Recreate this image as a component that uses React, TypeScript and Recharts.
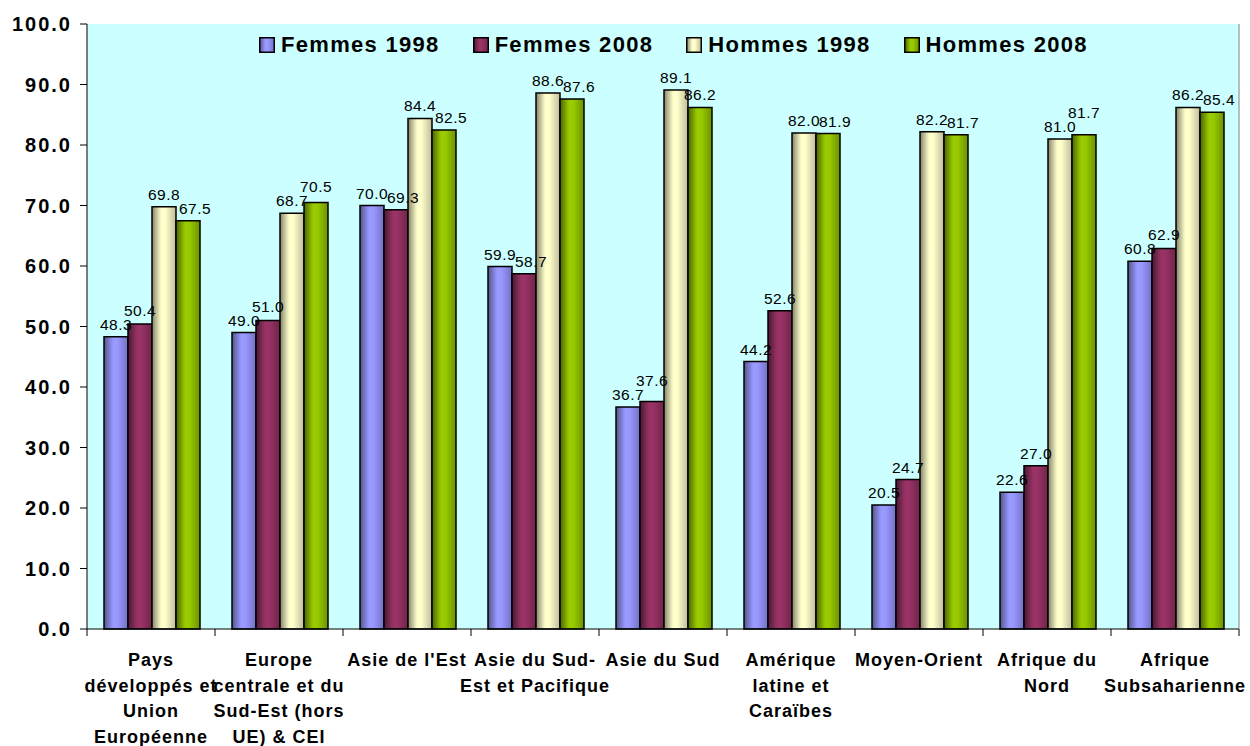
import React from "react";
import {
	BarChart,
	Bar,
	XAxis,
	YAxis,
	CartesianGrid,
	Legend,
	LabelList,
} from "recharts";

const categories = [
	"Pays\ndéveloppés et\nUnion\nEuropéenne",
	"Europe\ncentrale et du\nSud-Est (hors\nUE) & CEI",
	"Asie de l'Est",
	"Asie du Sud-\nEst et Pacifique",
	"Asie du Sud",
	"Amérique\nlatine et\nCaraïbes",
	"Moyen-Orient",
	"Afrique du\nNord",
	"Afrique\nSubsaharienne",
];

const femmes1998 = [48.3, 49.0, 70.0, 59.9, 36.7, 44.2, 20.5, 22.6, 60.8];
const femmes2008 = [50.4, 51.0, 69.3, 58.7, 37.6, 52.6, 24.7, 27.0, 62.9];
const hommes1998 = [69.8, 68.7, 84.4, 88.6, 89.1, 82.0, 82.2, 81.0, 86.2];
const hommes2008 = [67.5, 70.5, 82.5, 87.6, 86.2, 81.9, 81.7, 81.7, 85.4];

const yTicks = [0, 10, 20, 30, 40, 50, 60, 70, 80, 90, 100];

const seriesValues = [femmes1998, femmes2008, hommes1998, hommes2008];

const series = [
	{ key: "f1998", name: "Femmes 1998", grad: "gF98", stops: ["#55558f", "#9999ff", "#9999ff", "#7272c4"] },
	{ key: "f2008", name: "Femmes 2008", grad: "gF08", stops: ["#4a1932", "#993366", "#993366", "#6e2549"] },
	{ key: "h1998", name: "Hommes 1998", grad: "gH98", stops: ["#85856a", "#ffffcc", "#ffffcc", "#bdbd98"] },
	{ key: "h2008", name: "Hommes 2008", grad: "gH08", stops: ["#4a6300", "#99cc00", "#99cc00", "#6d9100"] },
];

const data = categories.map((name, i) => ({
	name,
	f1998: femmes1998[i],
	f2008: femmes2008[i],
	h1998: hommes1998[i],
	h2008: hommes2008[i],
}));

// value label above a bar; nudged when it would collide with its left neighbour's label
function makeLabel(si: number) {
	return (props: any) => {
		const { x, y, width, height, value, index } = props;
		const cur = Number(value);
		let dx = 0;
		let lift = 0;
		if (si > 0 && cur > 0) {
			const prev = seriesValues[si - 1][index];
			const d = ((cur - prev) * Number(height)) / cur;
			if (d >= 0 && d < 14) lift = 14 - d;
			else if (d < 0 && d > -14) dx = 7;
		}
		return (
			<text
				x={Number(x) + Number(width) / 2 + dx}
				y={Number(y) - 7 - lift}
				textAnchor="middle"
				fontSize={15.5}
				fill="#000"
				letterSpacing={0.5}
			>
				{cur.toFixed(1)}
			</text>
		);
	};
}

function CategoryTick(props: any) {
	const { x, y, payload, index } = props;
	const half = payload && payload.offset ? payload.offset : 64;
	const lines = String(payload.value).split("\n");
	const isLast = index === categories.length - 1;
	return (
		<g>
			<line x1={x - half} y1={y} x2={x - half} y2={y + 7} stroke="#000" />
			{isLast && <line x1={x + half} y1={y} x2={x + half} y2={y + 7} stroke="#000" />}
			<text
				x={x}
				y={y + 37}
				textAnchor="middle"
				fontSize={18}
				fontWeight="bold"
				letterSpacing={1}
				fill="#000"
			>
				{lines.map((line, i) => (
					<tspan key={i} x={x} dy={i === 0 ? 0 : 25.7}>
						{line}
					</tspan>
				))}
			</text>
		</g>
	);
}

function LegendContent() {
	return (
		<div style={{ display: "flex", alignItems: "center" }}>
			{series.map((s, i) => (
				<div
					key={s.key}
					style={{
						display: "flex",
						alignItems: "center",
						marginRight: i < series.length - 1 ? 33 : 0,
					}}
				>
					<svg width={16} height={16} style={{ marginRight: 6 }}>
						<rect x={0.75} y={0.75} width={14.5} height={14.5} fill={`url(#${s.grad})`} stroke="#000" strokeWidth={1.5} />
					</svg>
					<span style={{ fontSize: 22, fontWeight: "bold", letterSpacing: 1.3, color: "#000", lineHeight: "24px" }}>
						{s.name}
					</span>
				</div>
			))}
		</div>
	);
}

export default function App() {
	return (
		<div
			style={{
				position: "absolute",
				left: 0,
				top: 0,
				width: 1250,
				height: 746,
				background: "#fff",
				fontFamily: "'Liberation Sans', Arial, sans-serif",
			}}
		>
			<BarChart
				width={1250}
				height={746}
				data={data}
				margin={{ top: 24, right: 0, bottom: 0, left: 0 }}
				barCategoryGap={17}
				barGap={0}
			>
				<defs>
					{series.map((s) => (
						<linearGradient key={s.grad} id={s.grad} x1="0" y1="0" x2="1" y2="0">
							<stop offset="0%" stopColor={s.stops[0]} />
							<stop offset="38%" stopColor={s.stops[1]} />
							<stop offset="55%" stopColor={s.stops[2]} />
							<stop offset="100%" stopColor={s.stops[3]} />
						</linearGradient>
					))}
				</defs>
				<CartesianGrid horizontal={false} vertical={false} fill="#ccffff" fillOpacity={1} />
				<XAxis
					dataKey="name"
					height={117}
					interval={0}
					tickLine={false}
					tickSize={0}
					tickMargin={0}
					axisLine={{ stroke: "#000" }}
					tick={<CategoryTick />}
				/>
				<XAxis
					xAxisId="top"
					dataKey="name"
					orientation="top"
					height={0}
					tick={false}
					tickLine={false}
					axisLine={{ stroke: "#808080" }}
				/>
				<YAxis
					width={87}
					domain={[0, 100]}
					ticks={yTicks}
					interval={0}
					tickSize={7}
					tickMargin={8}
					tickLine={{ stroke: "#000" }}
					axisLine={{ stroke: "#000" }}
					tickFormatter={(v: number) => v.toFixed(1)}
					tick={{ fontSize: 20, fontWeight: "bold", fill: "#000", letterSpacing: 2 }}
				/>
				<YAxis
					yAxisId="right"
					orientation="right"
					width={11}
					domain={[0, 100]}
					tick={false}
					tickLine={false}
					axisLine={{ stroke: "#808080" }}
				/>
				<Legend
					verticalAlign="middle"
					align="center"
					content={<LegendContent />}
					wrapperStyle={{ top: 33, left: 259, width: "auto" }}
				/>
				{series.map((s, si) => (
					<Bar
						key={s.key}
						dataKey={s.key}
						name={s.name}
						fill={`url(#${s.grad})`}
						stroke="#000"
						strokeWidth={1.5}
						isAnimationActive={false}
					>
						<LabelList dataKey={s.key} content={makeLabel(si)} />
					</Bar>
				))}
			</BarChart>
		</div>
	);
}
